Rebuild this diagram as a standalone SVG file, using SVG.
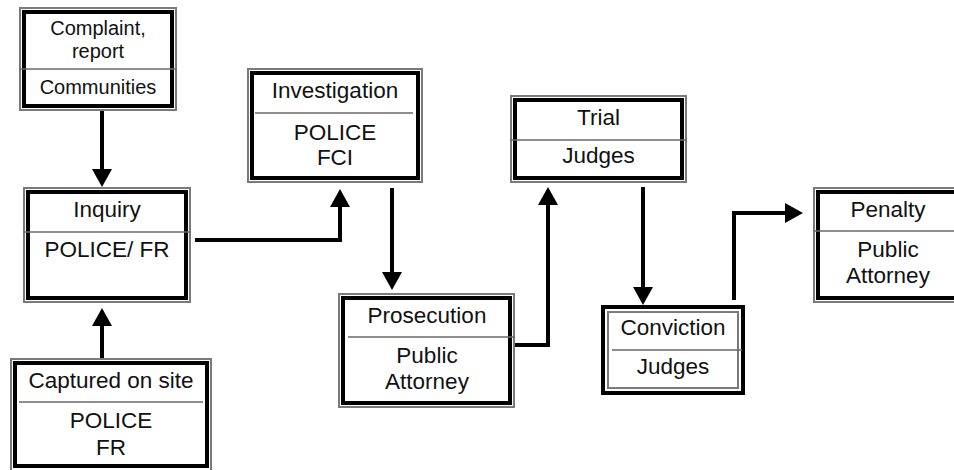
<svg xmlns="http://www.w3.org/2000/svg" width="954" height="470" viewBox="0 0 954 470">
  <style>
    .bg { fill: #ffffff; }
    .outer { fill: #ffffff; stroke: #7a7a7a; stroke-width: 2; }
    .thick { fill: none; stroke: #000000; stroke-width: 4; }
    .thin { fill: none; stroke: #7a7a7a; stroke-width: 2; }
    .div { stroke: #6a6a6a; stroke-width: 1.6; }
    .t { font-family: "Liberation Sans", Arial, sans-serif; font-size: 22.5px; fill: #111111; text-anchor: middle; }
    .ts { font-size: 20px; }
    .conn { fill: none; stroke: #000000; stroke-width: 4; stroke-linejoin: miter; }
  </style>
  <defs>
    <marker id="arrow" viewBox="0 0 18 20" refX="1" refY="10" markerWidth="18" markerHeight="20" markerUnits="userSpaceOnUse" orient="auto">
      <path d="M0,0 L18,10 L0,20 z" fill="#000000"/>
    </marker>
  </defs>
  <rect class="bg" x="0" y="0" width="954" height="470"/>

  <g id="complaint">
    <rect class="outer" x="20" y="8" width="156" height="102"/>
    <rect class="thick" x="24" y="12" width="148" height="94"/>
    <line class="div" x1="19" y1="69" x2="177" y2="69"/>
    <text class="t ts" x="98" y="35">Complaint,</text>
    <text class="t ts" x="98" y="58">report</text>
    <text class="t ts" x="98" y="94">Communities</text>
  </g>

  <g id="inquiry">
    <rect class="outer" x="24" y="188" width="166" height="114"/>
    <rect class="thick" x="28" y="192" width="158" height="106"/>
    <line class="div" x1="23" y1="232" x2="191" y2="232"/>
    <text class="t" x="107" y="217">Inquiry</text>
    <text class="t" x="107" y="257">POLICE/ FR</text>
  </g>

  <g id="captured">
    <rect class="outer" x="11" y="359" width="200" height="114"/>
    <rect class="thick" x="15" y="363" width="192" height="103"/>
    <line class="div" x1="19" y1="402" x2="203" y2="402"/>
    <text class="t" x="111" y="388">Captured on site</text>
    <text class="t" x="111" y="428">POLICE</text>
    <text class="t" x="111" y="455">FR</text>
  </g>

  <g id="investigation">
    <rect class="outer" x="248" y="69" width="174" height="113"/>
    <rect class="thick" x="252" y="73" width="166" height="105"/>
    <line class="div" x1="255" y1="113" x2="413" y2="113"/>
    <text class="t" x="335" y="98">Investigation</text>
    <text class="t" x="335" y="140">POLICE</text>
    <text class="t" x="335" y="165">FCI</text>
  </g>

  <g id="prosecution">
    <rect class="outer" x="339" y="294" width="175" height="113"/>
    <rect class="thick" x="343" y="298" width="167" height="105"/>
    <line class="div" x1="348" y1="337" x2="515" y2="337"/>
    <text class="t" x="427" y="323">Prosecution</text>
    <text class="t" x="427" y="363">Public</text>
    <text class="t" x="427" y="389">Attorney</text>
  </g>

  <g id="trial">
    <rect class="outer" x="511" y="96" width="175" height="86"/>
    <rect class="thick" x="515" y="100" width="167" height="78"/>
    <line class="div" x1="510" y1="140" x2="687" y2="140"/>
    <text class="t" x="598.5" y="125">Trial</text>
    <text class="t" x="598.5" y="163">Judges</text>
  </g>

  <g id="conviction">
    <rect class="thick" x="603" y="307" width="140" height="86" fill="#ffffff"/>
    <rect class="thin" x="608" y="312" width="130" height="76"/>
    <line class="div" x1="612" y1="350" x2="742" y2="350"/>
    <text class="t" x="673" y="335">Conviction</text>
    <text class="t" x="673" y="374">Judges</text>
  </g>

  <g id="penalty">
    <rect class="outer" x="814" y="188" width="148" height="114"/>
    <rect class="thick" x="818" y="192" width="140" height="106"/>
    <line class="div" x1="813" y1="231" x2="963" y2="231"/>
    <text class="t" x="888" y="217">Penalty</text>
    <text class="t" x="888" y="257">Public</text>
    <text class="t" x="888" y="283">Attorney</text>
  </g>

  <g id="connectors">
    <path class="conn" d="M102,111 V170" marker-end="url(#arrow)"/>
    <path class="conn" d="M102,358 V325" marker-end="url(#arrow)"/>
    <path class="conn" d="M195,240 H340 V206" marker-end="url(#arrow)"/>
    <path class="conn" d="M392,188 V273" marker-end="url(#arrow)"/>
    <path class="conn" d="M515,345 H548 V204" marker-end="url(#arrow)"/>
    <path class="conn" d="M643,187 V288" marker-end="url(#arrow)"/>
    <path class="conn" d="M734,300 V213 H786" marker-end="url(#arrow)"/>
  </g>
</svg>
